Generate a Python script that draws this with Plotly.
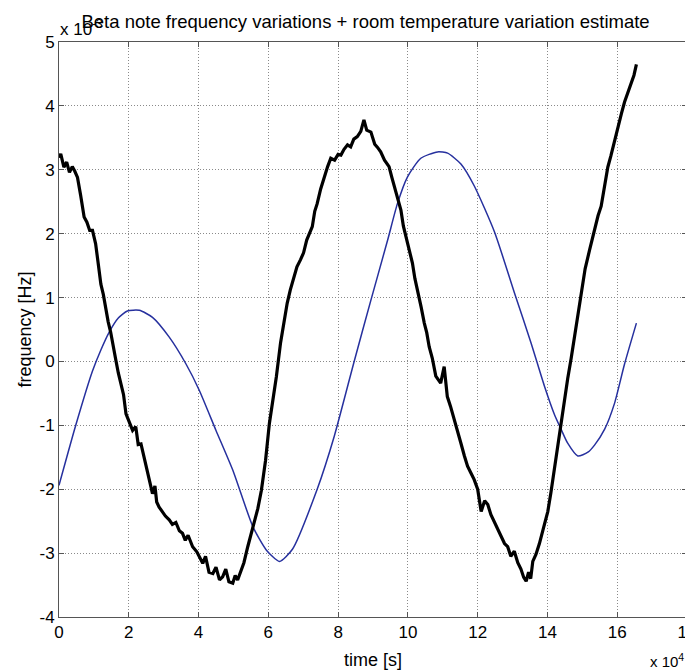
import plotly.graph_objects as go

# time in units of 1e4 s, frequency in units of 1e-3 Hz
temp_t = [0.0, 0.48, 0.96, 1.2, 1.44, 1.7, 1.96, 2.3, 2.68, 3.16, 3.64, 4.02, 4.5, 4.98, 5.56, 5.94, 6.32, 6.69,
          7.4, 7.89, 8.46, 8.94, 9.42, 9.7, 9.99, 10.37, 10.85, 11.14, 11.52, 11.9, 12.48, 13.05, 13.53,
          13.91, 14.2, 14.39, 14.58, 14.87, 15.16, 15.35, 15.64, 15.92, 16.21, 16.55]
temp_f = [-1.94, -1.0, -0.15, 0.18, 0.46, 0.68, 0.79, 0.80, 0.69, 0.38, -0.04, -0.45, -1.08, -1.70, -2.59, -2.95,
          -3.13, -2.94, -2.0, -1.17, 0.0, 0.96, 1.90, 2.47, 2.89, 3.18, 3.28, 3.26, 3.09, 2.75, 2.03,
          1.08, 0.29, -0.38, -0.83, -1.06, -1.28, -1.48, -1.42, -1.31, -1.06, -0.66, -0.04, 0.60]

note_t = [0.0, 0.05, 0.14, 0.22, 0.3, 0.38, 0.45, 0.53, 0.62, 0.72, 0.8, 0.88, 0.96, 1.05, 1.12, 1.2,
          1.27, 1.34, 1.41, 1.48, 1.56, 1.63, 1.7, 1.77, 1.85, 1.92, 2.0, 2.11, 2.2, 2.27, 2.35, 2.42,
          2.49, 2.58, 2.68, 2.75, 2.8, 2.87, 2.95, 3.05, 3.16, 3.25, 3.35, 3.45, 3.54, 3.62, 3.7, 3.83,
          3.95, 4.05, 4.12, 4.2, 4.3, 4.41, 4.5, 4.6, 4.69, 4.78, 4.87, 4.98, 5.05, 5.12, 5.22, 5.3,
          5.41, 5.5, 5.6, 5.7, 5.8, 5.92, 6.03, 6.13, 6.23, 6.35, 6.45, 6.54, 6.63, 6.73, 6.82, 6.92,
          7.01, 7.1, 7.18, 7.26, 7.33, 7.4, 7.5, 7.6, 7.7, 7.79, 7.9, 8.0, 8.08, 8.17, 8.27, 8.36, 8.45,
          8.55, 8.65, 8.74, 8.82, 8.94, 9.05, 9.13, 9.22, 9.33, 9.46, 9.54, 9.61, 9.7, 9.8, 9.87, 9.94,
          10.03, 10.13, 10.2, 10.28, 10.38, 10.47, 10.54, 10.61, 10.7, 10.8, 10.87, 10.94, 11.04, 11.13,
          11.22, 11.33, 11.42, 11.52, 11.62, 11.71, 11.81, 11.9, 12.0, 12.1, 12.2, 12.29, 12.38, 12.48,
          12.58, 12.68, 12.77, 12.86, 12.95, 13.05, 13.15, 13.24, 13.32, 13.39, 13.46, 13.52, 13.58,
          13.67, 13.77, 13.88, 14.01, 14.1, 14.2, 14.3, 14.39, 14.49, 14.58, 14.68, 14.78, 14.88, 14.97,
          15.08, 15.21, 15.28, 15.35, 15.45, 15.54, 15.63, 15.73, 15.82, 15.92, 16.02, 16.12, 16.21,
          16.3, 16.4, 16.48, 16.55]
note_f = [3.19, 3.25, 3.04, 3.12, 2.96, 3.05, 2.98, 2.88, 2.60, 2.26, 2.18, 2.05, 2.05, 1.84, 1.55,
          1.21, 1.05, 0.80, 0.62, 0.46, 0.25, 0.02, -0.18, -0.35, -0.52, -0.82, -0.92, -1.08, -1.02,
          -1.30, -1.29, -1.45, -1.60, -1.85, -2.07, -1.95, -2.20, -2.28, -2.35, -2.42, -2.48, -2.55,
          -2.52, -2.65, -2.69, -2.80, -2.72, -2.90, -2.98, -3.10, -3.16, -3.05, -3.30, -3.32, -3.22,
          -3.42, -3.37, -3.25, -3.45, -3.47, -3.35, -3.42, -3.27, -3.15, -2.90, -2.72, -2.54, -2.30,
          -2.02, -1.55, -0.97, -0.60, -0.24, 0.29, 0.62, 0.91, 1.12, 1.33, 1.48, 1.59, 1.70, 1.90,
          2.00, 2.11, 2.35, 2.47, 2.70, 2.89, 3.05, 3.18, 3.15, 3.24, 3.23, 3.32, 3.39, 3.36, 3.48,
          3.52, 3.60, 3.78, 3.62, 3.59, 3.40, 3.35, 3.28, 3.15, 3.05, 2.88, 2.73, 2.55, 2.37, 2.12,
          1.95, 1.78, 1.54, 1.30, 1.12, 0.85, 0.60, 0.45, 0.23, 0.05, -0.23, -0.28, -0.34, -0.08,
          -0.55, -0.70, -0.91, -1.05, -1.28, -1.48, -1.64, -1.75, -1.85, -2.00, -2.35, -2.18, -2.24,
          -2.40, -2.52, -2.62, -2.75, -2.85, -2.90, -3.05, -2.97, -3.15, -3.25, -3.38, -3.44, -3.30,
          -3.40, -3.13, -3.02, -2.85, -2.62, -2.35, -2.05, -1.67, -1.30, -0.94, -0.62, -0.27, 0.05,
          0.40, 0.72, 1.08, 1.45, 1.75, 1.90, 2.09, 2.28, 2.43, 2.75, 3.04, 3.22, 3.44, 3.70, 3.88,
          4.06, 4.20, 4.39, 4.48, 4.65]

x_ticks = [0, 2, 4, 6, 8, 10, 12, 14, 16, 18]
y_ticks = [-4, -3, -2, -1, 0, 1, 2, 3, 4, 5]

fig = go.Figure()
fig.add_trace(go.Scatter(x=temp_t, y=temp_f, mode="lines",
                         line=dict(color="#26309e", width=1.5, shape="spline", smoothing=0.6),
                         hoverinfo="skip"))
fig.add_trace(go.Scatter(x=note_t, y=note_f, mode="lines",
                         line=dict(color="black", width=3.2),
                         hoverinfo="skip"))

font = "Liberation Sans, Arial, sans-serif"
axis_common = dict(
    showgrid=True, gridcolor="#8a8a8a", griddash="1px,2px", gridwidth=1,
    showline=True, linecolor="#555555", linewidth=1, mirror="ticks",
    ticks="inside", ticklen=5, tickcolor="#555555", zeroline=False,
    tickfont=dict(family=font, size=17, color="black"),
    automargin=False, ticklabeloverflow="allow",
)
fig.update_xaxes(range=[0, 18], tickvals=x_ticks, ticktext=[str(v) for v in x_ticks],
                 title=dict(text="time [s]", font=dict(family=font, size=18, color="black"), standoff=11),
                 **axis_common)
fig.update_yaxes(range=[-4, 5], tickvals=y_ticks, ticktext=[str(v) for v in y_ticks],
                 title=dict(text="frequency [Hz]", font=dict(family=font, size=18, color="black"), standoff=3),
                 **axis_common)

# the page body has an 8px margin, so the figure is sized to end at the window edge
fig.update_layout(
    width=685, height=663,
    margin=dict(l=51, r=6, t=34, b=54, autoexpand=False),
    paper_bgcolor="white", plot_bgcolor="white",
    showlegend=False,
    title=dict(text="Beta note frequency variations + room temperature variation estimate",
               font=dict(family=font, size=18.5, color="black"),
               x=0.522, xanchor="center", y=0.980, yanchor="middle"),
    annotations=[
        dict(text="x 10<sup>-3</sup>", xref="paper", yref="paper", x=0.0, y=1.0,
             xanchor="left", yanchor="middle", showarrow=False, yshift=14, xshift=-1,
             font=dict(family=font, size=17, color="black")),
        dict(text="x 10<sup>4</sup>", xref="paper", yref="paper", x=1.0, y=0.0,
             xanchor="right", yanchor="middle", showarrow=False, yshift=-43, xshift=-1,
             font=dict(family=font, size=15, color="black")),
    ],
)

fig.write_html("out.html")
